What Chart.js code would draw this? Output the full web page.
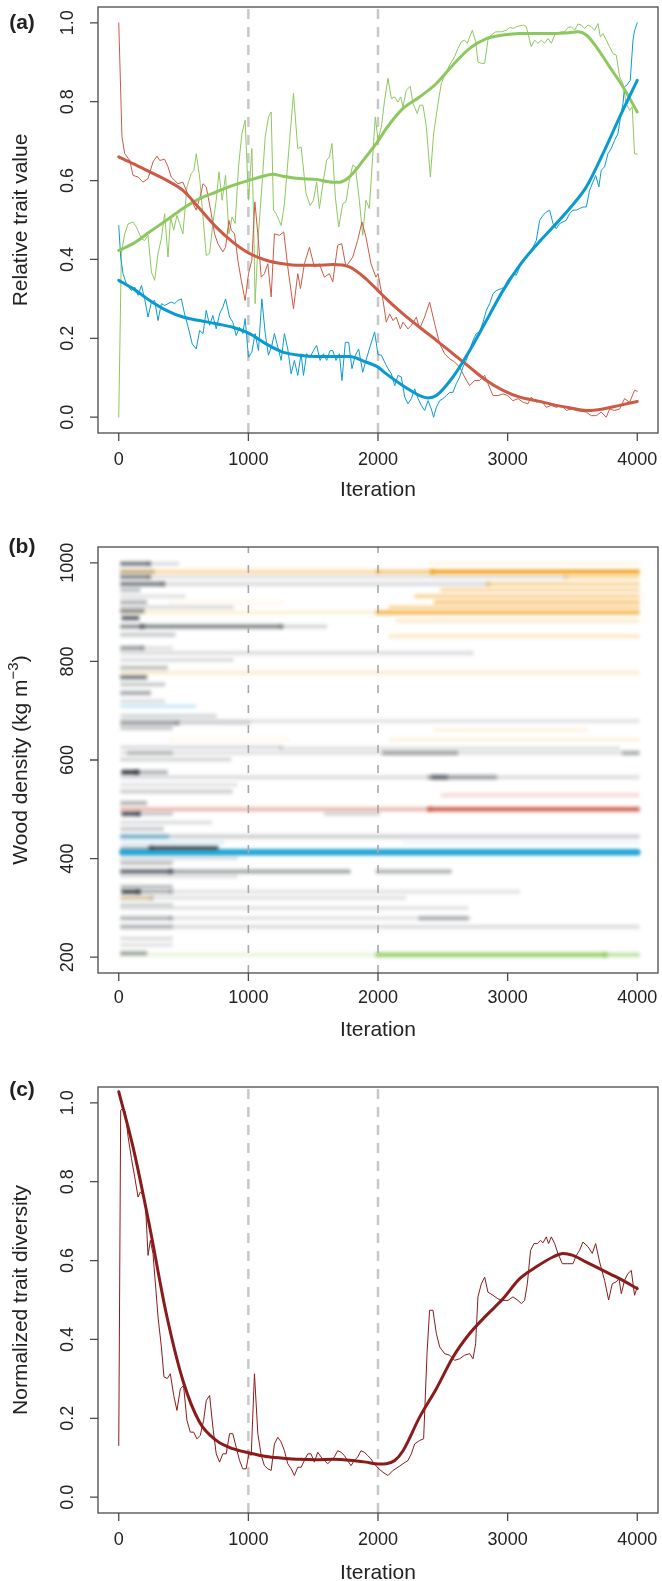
<!DOCTYPE html>
<html><head><meta charset="utf-8">
<script src="https://cdn.jsdelivr.net/npm/chart.js@4.4.1/dist/chart.umd.min.js"></script>
<style>
html,body{margin:0;padding:0;background:#fff;width:662px;height:1581px;overflow:hidden}
.p{position:absolute;left:0;width:662px}
canvas{display:block}
</style></head><body>
<div class="p" style="top:0px;height:520px"><canvas id="ca" width="662" height="520"></canvas></div>
<div class="p" style="top:520px;height:540px"><canvas id="cb" width="662" height="540"></canvas></div>
<div class="p" style="top:1060px;height:521px"><canvas id="cc" width="662" height="521"></canvas></div>
<script>
// ---------------- DATA ----------------
const xTicks = [0, 1000, 2000, 3000, 4000];
const xTickLabels = ['0', '1000', '2000', '3000', '4000'];
const guideIters = [1000, 2000];
const relTicks = [0, 0.2, 0.4, 0.6, 0.8, 1.0];
const relTickLabels = ['0.0', '0.2', '0.4', '0.6', '0.8', '1.0'];
const densTicks = [200, 400, 600, 800, 1000];
const densTickLabels = ['200', '400', '600', '800', '1000'];

// Panel (a) red trait, raw
const redIter = [0,25,46,85,110,150,187,226,264,295,316,354,380,405,457,495,526,560,598,637,650,675,714,739,765,803,824,850,868,893,919,945,975,1001,1027,1050,1073,1099,1124,1150,1176,1201,1240,1273,1304,1348,1381,1402,1432,1471,1509,1548,1586,1625,1651,1689,1720,1753,1805,1843,1876,1907,1946,1984,2000,2039,2064,2090,2116,2141,2172,2193,2231,2257,2296,2321,2360,2398,2437,2476,2514,2553,2591,2630,2668,2707,2745,2784,2823,2848,2887,2925,2964,3000,3041,3080,3118,3157,3182,3221,3260,3298,3337,3375,3414,3453,3491,3530,3568,3607,3645,3684,3722,3761,3787,3825,3864,3902,3941,3979,4000];
const redVal = [1.000,0.711,0.668,0.651,0.613,0.609,0.596,0.605,0.647,0.662,0.651,0.654,0.635,0.609,0.592,0.596,0.571,0.550,0.525,0.571,0.592,0.584,0.516,0.465,0.440,0.419,0.431,0.499,0.474,0.465,0.398,0.347,0.296,0.364,0.398,0.546,0.465,0.355,0.364,0.389,0.305,0.465,0.461,0.470,0.381,0.275,0.364,0.326,0.389,0.431,0.381,0.389,0.355,0.364,0.343,0.436,0.440,0.381,0.406,0.448,0.495,0.457,0.389,0.355,0.364,0.296,0.241,0.262,0.245,0.254,0.224,0.241,0.224,0.233,0.254,0.224,0.254,0.292,0.237,0.186,0.161,0.148,0.140,0.127,0.102,0.080,0.093,0.093,0.106,0.085,0.055,0.055,0.059,0.055,0.042,0.047,0.038,0.034,0.051,0.038,0.042,0.025,0.030,0.025,0.030,0.017,0.021,0.017,0.015,0.013,0.004,0.004,0.013,0.000,0.021,0.017,0.021,0.047,0.038,0.068,0.066];
// Panel (a) green trait, raw
const greenIter = [0,20,46,72,110,136,175,200,226,252,277,303,329,354,380,400,424,449,470,495,526,560,580,598,624,650,675,701,726,752,773,798,824,850,875,898,924,950,975,1001,1027,1040,1052,1078,1104,1130,1155,1176,1194,1214,1253,1278,1312,1348,1381,1407,1445,1476,1502,1527,1548,1579,1604,1625,1645,1671,1697,1728,1753,1779,1805,1825,1856,1882,1907,1933,1959,1979,2000,2026,2051,2077,2103,2129,2154,2175,2193,2218,2249,2270,2303,2321,2347,2373,2404,2429,2463,2488,2527,2553,2591,2617,2643,2668,2689,2707,2728,2753,2771,2797,2823,2848,2874,2908,2951,2990,3016,3046,3067,3093,3123,3144,3164,3182,3208,3234,3260,3285,3311,3337,3363,3388,3414,3440,3465,3491,3517,3543,3568,3594,3620,3645,3671,3697,3715,3735,3761,3787,3812,3838,3864,3889,3915,3941,3961,3979,4000];
const greenVal = [0.000,0.415,0.465,0.490,0.495,0.482,0.453,0.448,0.461,0.368,0.347,0.415,0.453,0.516,0.406,0.508,0.474,0.512,0.491,0.465,0.584,0.618,0.626,0.668,0.609,0.508,0.410,0.415,0.491,0.550,0.622,0.550,0.613,0.465,0.508,0.491,0.635,0.719,0.753,0.550,0.681,0.508,0.288,0.465,0.584,0.711,0.761,0.774,0.525,0.516,0.486,0.541,0.677,0.821,0.681,0.685,0.567,0.537,0.550,0.596,0.529,0.601,0.651,0.660,0.694,0.558,0.482,0.541,0.546,0.601,0.639,0.635,0.550,0.461,0.550,0.529,0.660,0.761,0.702,0.736,0.804,0.859,0.808,0.812,0.799,0.812,0.787,0.829,0.839,0.795,0.770,0.791,0.791,0.736,0.609,0.719,0.795,0.846,0.876,0.893,0.914,0.935,0.952,0.956,0.948,0.964,0.981,0.952,0.901,0.897,0.897,0.956,0.969,0.977,0.977,0.981,0.988,0.986,0.990,0.992,0.994,0.990,0.964,0.939,0.956,0.948,0.956,0.948,0.960,0.948,0.969,0.973,0.977,0.977,0.988,0.990,0.981,0.997,0.994,0.986,0.994,0.990,0.981,0.998,0.964,0.973,0.956,0.939,0.922,0.918,0.863,0.846,0.795,0.778,0.787,0.668,0.667];
// Panel (a) blue trait, raw
const blueIter = [0,15,33,59,98,123,149,175,200,226,252,277,303,329,354,380,405,431,457,483,508,542,567,598,624,650,675,701,726,752,778,803,824,855,880,906,932,957,975,1001,1027,1052,1078,1104,1130,1155,1181,1201,1227,1253,1278,1304,1330,1355,1381,1407,1425,1450,1476,1502,1527,1553,1579,1604,1630,1651,1676,1702,1722,1748,1774,1799,1825,1851,1882,1907,1938,1974,2000,2026,2051,2077,2103,2129,2154,2180,2206,2231,2257,2283,2309,2334,2360,2386,2411,2429,2450,2476,2501,2527,2553,2578,2604,2630,2655,2681,2707,2733,2758,2784,2810,2836,2861,2887,2913,2951,2977,3000,3041,3067,3093,3118,3144,3170,3195,3221,3247,3273,3298,3324,3350,3375,3401,3427,3452,3478,3504,3530,3555,3581,3607,3632,3658,3679,3704,3722,3748,3774,3799,3825,3851,3869,3890,3902,3920,3946,3967,3980,4000];
const blueVal = [0.486,0.406,0.364,0.338,0.321,0.330,0.309,0.334,0.300,0.254,0.292,0.296,0.245,0.288,0.283,0.288,0.292,0.288,0.296,0.300,0.262,0.220,0.186,0.173,0.220,0.212,0.271,0.233,0.258,0.224,0.262,0.279,0.300,0.254,0.241,0.207,0.228,0.212,0.250,0.152,0.165,0.212,0.169,0.300,0.212,0.157,0.182,0.212,0.178,0.144,0.212,0.173,0.110,0.144,0.106,0.161,0.106,0.161,0.152,0.169,0.182,0.144,0.161,0.144,0.169,0.169,0.144,0.161,0.093,0.190,0.190,0.123,0.157,0.173,0.114,0.144,0.178,0.216,0.159,0.157,0.140,0.123,0.110,0.080,0.106,0.102,0.051,0.034,0.047,0.072,0.047,0.030,0.017,0.042,0.021,0.000,0.025,0.042,0.047,0.055,0.063,0.063,0.085,0.102,0.127,0.144,0.169,0.195,0.212,0.216,0.241,0.271,0.288,0.313,0.321,0.326,0.330,0.347,0.364,0.360,0.381,0.398,0.406,0.419,0.431,0.448,0.499,0.512,0.520,0.525,0.491,0.478,0.491,0.495,0.499,0.516,0.525,0.525,0.529,0.533,0.533,0.575,0.596,0.613,0.584,0.626,0.635,0.668,0.681,0.702,0.719,0.757,0.795,0.838,0.842,0.854,0.956,0.981,1.000];
// Panel (a) smoothed fits
const redFitIter = [0,110,239,367,495,624,752,880,1009,1137,1266,1394,1522,1651,1779,1907,2000,2064,2193,2321,2450,2578,2707,2836,2964,3093,3221,3350,3478,3607,3735,3864,4000];
const redFitVal = [0.660,0.643,0.622,0.601,0.575,0.529,0.482,0.444,0.415,0.398,0.389,0.385,0.385,0.387,0.381,0.351,0.321,0.300,0.262,0.228,0.195,0.161,0.127,0.093,0.068,0.051,0.042,0.032,0.024,0.017,0.021,0.030,0.040];
const greenFitIter = [0,110,239,367,495,624,752,880,1009,1137,1189,1266,1394,1522,1651,1702,1779,1907,2000,2064,2193,2321,2450,2578,2707,2836,2964,3093,3221,3350,3478,3543,3607,3684,3787,3889,4000];
const greenFitVal = [0.423,0.440,0.470,0.499,0.529,0.554,0.571,0.588,0.601,0.613,0.616,0.611,0.605,0.603,0.596,0.596,0.609,0.660,0.700,0.732,0.783,0.812,0.846,0.893,0.935,0.960,0.969,0.973,0.973,0.973,0.975,0.977,0.969,0.939,0.888,0.838,0.774];
const blueFitIter = [0,110,239,367,495,624,752,880,1009,1137,1266,1394,1522,1651,1779,1907,2000,2064,2193,2321,2386,2450,2578,2707,2836,2964,3093,3221,3350,3478,3607,3735,3864,4000];
const blueFitVal = [0.347,0.326,0.296,0.271,0.254,0.245,0.237,0.228,0.212,0.186,0.165,0.157,0.154,0.154,0.154,0.140,0.127,0.110,0.080,0.055,0.049,0.055,0.102,0.169,0.245,0.321,0.385,0.436,0.482,0.529,0.584,0.668,0.761,0.854];

// Panel (b) wood-density bands: density, iteration span, species group, abundance
const bandDensity = [998,998,1000,982,982,982,982,971,971,971,957,957,957,945,945,932,932,920,920,920,910,910,902,899,899,888,882,871,871,871,854,851,827,827,817,803,787,777,768,753,736,719,709,689,679,675,675,665,661,641,641,626,624,614,614,614,614,601,575,575,565,565,565,550,536,529,513,500,500,491,491,491,473,460,445,445,432,432,421,421,413,401,391,374,374,374,364,343,333,333,333,320,320,320,306,300,279,279,279,262,262,238,225,208,205,205,205];
const bandFrom = [30,230,2400,30,30,2000,2420,30,230,3450,30,340,2850,30,2500,30,2300,30,400,2450,30,2100,30,30,2000,40,2150,30,180,1250,30,2100,30,180,30,30,30,30,30,30,30,30,30,30,30,30,450,30,2450,400,2100,30,1250,30,2050,3900,80,30,40,140,30,2400,2430,30,30,2500,30,30,2400,40,150,1600,30,30,30,30,30,2200,30,250,30,30,30,30,400,2000,30,30,40,150,400,30,30,250,30,30,30,400,2330,30,30,30,30,30,30,2000,3750];
const bandTo = [230,450,4000,2000,260,2420,4000,230,3450,4000,340,2850,4000,150,4000,500,4000,200,1250,4000,870,4000,180,2000,4000,140,4000,180,1250,1590,420,4000,180,400,2720,870,360,4000,200,340,230,340,580,740,4000,450,1000,400,3600,1300,4000,1250,3850,4000,2600,4000,400,850,140,360,4000,2900,2520,900,860,4000,200,2400,4000,150,400,2000,700,330,4000,370,800,4000,250,750,4000,900,400,400,1770,2550,900,400,150,400,3080,250,250,2200,400,2680,400,2700,2680,4000,400,400,400,200,2000,3750,4000];
const bandGroup = ['k','k','o','o','k','o','o','k','k','o','k','k','o','k','o','k','o','k','o','o','k','o','k','o','o','k','o','k','k','k','k','o','k','k','k','k','k','o','k','k','k','k','b','k','k','k','k','k','o','o','o','k','k','k','k','k','k','k','k','k','k','k','k','k','k','r','k','r','r','k','k','k','k','k','k','b','b','b','k','k','b','k','k','k','k','k','k','k','k','k','k','o','k','k','k','k','k','k','k','k','k','k','k','k','g','g','g'];
const bandLevel = [.55,.12,.07,.3,.25,.45,.9,.5,.1,.3,.55,.13,.35,.25,.3,.1,.35,.3,.06,.45,.12,.3,.45,.12,.65,.7,.15,.45,.5,.15,.2,.18,.4,.1,.12,.12,.25,.15,.55,.2,.35,.12,.15,.15,.1,.35,.12,.2,.1,.06,.1,.12,.1,.1,.3,.25,.2,.15,.95,.3,.12,.3,.4,.1,.18,.15,.3,.3,.8,.8,.2,.15,.12,.2,.18,.35,.1,.05,.25,.8,.95,.12,.25,.65,.35,.3,.1,.25,.85,.3,.1,.2,.15,.1,.15,.1,.3,.1,.25,.12,.2,.12,.1,.35,.15,.85,.45];

// Panel (c) normalized trait diversity
const divIter = [0,15,33,51,72,98,123,149,167,187,205,226,244,264,285,303,329,349,375,398,424,449,475,500,526,552,578,603,629,655,675,701,726,752,778,803,829,855,880,906,932,957,983,1004,1022,1047,1073,1099,1124,1150,1176,1201,1227,1253,1278,1304,1330,1355,1381,1407,1432,1458,1483,1509,1535,1561,1586,1612,1638,1663,1689,1715,1740,1766,1792,1817,1843,1869,1894,1920,1946,1971,2000,2039,2077,2116,2154,2193,2231,2257,2283,2321,2352,2378,2398,2424,2450,2476,2514,2553,2591,2630,2668,2707,2733,2753,2771,2797,2823,2848,2887,2925,2964,3003,3041,3080,3106,3131,3152,3177,3203,3229,3254,3273,3298,3316,3337,3363,3388,3422,3465,3504,3530,3555,3581,3620,3653,3679,3710,3748,3779,3807,3838,3859,3877,3902,3928,3954,3979,4000];
const divVal = [0.131,0.981,0.986,0.977,0.914,0.859,0.812,0.761,0.774,0.766,0.749,0.613,0.651,0.618,0.533,0.457,0.381,0.305,0.301,0.313,0.258,0.220,0.275,0.283,0.195,0.165,0.165,0.148,0.157,0.195,0.245,0.258,0.178,0.110,0.089,0.110,0.110,0.161,0.161,0.127,0.093,0.072,0.072,0.110,0.106,0.313,0.161,0.106,0.080,0.072,0.068,0.135,0.152,0.140,0.118,0.085,0.072,0.055,0.076,0.076,0.093,0.110,0.110,0.089,0.114,0.102,0.093,0.085,0.093,0.102,0.118,0.114,0.106,0.093,0.080,0.093,0.102,0.118,0.114,0.106,0.097,0.085,0.074,0.063,0.055,0.068,0.076,0.085,0.093,0.110,0.135,0.144,0.148,0.364,0.474,0.474,0.415,0.381,0.364,0.360,0.347,0.351,0.360,0.364,0.351,0.389,0.508,0.541,0.558,0.520,0.512,0.503,0.499,0.499,0.508,0.499,0.491,0.499,0.541,0.626,0.643,0.643,0.651,0.645,0.660,0.643,0.660,0.643,0.618,0.592,0.592,0.592,0.613,0.626,0.647,0.635,0.618,0.643,0.596,0.550,0.500,0.541,0.546,0.554,0.516,0.550,0.567,0.575,0.512,0.533];
const divFitIter = [0,110,239,367,495,624,752,880,1009,1137,1266,1394,1522,1651,1779,1907,2000,2064,2129,2193,2321,2450,2578,2707,2836,2964,3093,3221,3350,3427,3504,3607,3735,3864,4000];
const divFitVal = [1.028,0.888,0.685,0.465,0.296,0.190,0.144,0.123,0.112,0.103,0.099,0.096,0.095,0.096,0.094,0.089,0.084,0.085,0.093,0.118,0.203,0.275,0.355,0.415,0.461,0.503,0.554,0.584,0.609,0.618,0.613,0.596,0.575,0.554,0.529];

// ---------------- STYLE ----------------
const FONT = '"Liberation Sans", Arial, Helvetica, sans-serif';
const TXT = '#222222';
const RED = '#cc5a44', GREEN = '#8dc85e', BLUE = '#0a9ad2', DIVC = '#8b1a1a';
const groupRGB = {k:'45,54,60', o:'242,160,24', r:'200,72,52', b:'0,152,208', g:'140,200,90'};

function pts(xs, ys){ return xs.map((v,i)=>({x:v, y:ys[i]})); }
function lineDs(xs, ys, color, width, order, smooth){
  return {type:'line', data: pts(xs, ys), borderColor: color, borderWidth: width, pointRadius: 0,
    fill:false, order: order, tension: 0, cubicInterpolationMode: smooth ? 'monotone' : 'default',
    borderJoinStyle:'round', borderCapStyle:'round', spanGaps:true};
}

function rPlot(cfg){
  return {
    id:'rplot',
    beforeDatasetsDraw(chart){
      if (cfg.blur) { chart.ctx.save(); chart.ctx.filter = 'blur(1.2px)'; }
      if (!cfg.guidesOnTop) drawGuides(chart, cfg);
    },
    afterDatasetsDraw(chart){
      if (cfg.blur) chart.ctx.restore();
      if (cfg.guidesOnTop) drawGuides(chart, cfg);
    },
    afterDraw(chart){
      const ctx = chart.ctx, a = chart.chartArea, xs = chart.scales.x, ys = chart.scales.y;
      ctx.save();
      ctx.strokeStyle = '#4a4a4a'; ctx.lineWidth = 1.3;
      ctx.strokeRect(a.left, a.top, a.right - a.left, a.bottom - a.top);
      ctx.beginPath();
      xTicks.forEach(v => { const p = xs.getPixelForValue(v); ctx.moveTo(p, a.bottom); ctx.lineTo(p, a.bottom + 8); });
      cfg.yTicks.forEach(v => { const p = ys.getPixelForValue(v); ctx.moveTo(a.left, p); ctx.lineTo(a.left - 8, p); });
      ctx.stroke();
      ctx.fillStyle = TXT;
      ctx.font = '18px ' + FONT; ctx.textAlign = 'center'; ctx.textBaseline = 'middle';
      xTicks.forEach((v,i) => ctx.fillText(xTickLabels[i], xs.getPixelForValue(v), a.bottom + cfg.tickLabOff));
      cfg.yTicks.forEach((v,i) => {
        ctx.save(); ctx.translate(68, ys.getPixelForValue(v)); ctx.rotate(-Math.PI/2);
        ctx.fillText(cfg.yLabels[i], 0, 0); ctx.restore();
      });
      ctx.font = '21px ' + FONT;
      ctx.fillText('Iteration', (a.left + a.right)/2, a.bottom + cfg.titleOff);
      ctx.save(); ctx.translate(21, (a.top + a.bottom)/2); ctx.rotate(-Math.PI/2);
      if (cfg.sup) {
        const main = cfg.yTitle, sup = cfg.sup, tail = cfg.tail;
        ctx.font = '21px ' + FONT; const w1 = ctx.measureText(main).width, w3 = ctx.measureText(tail).width;
        ctx.font = '15px ' + FONT; const w2 = ctx.measureText(sup).width;
        let x0 = -(w1 + w2 + w3)/2;
        ctx.textAlign = 'left';
        ctx.font = '21px ' + FONT; ctx.fillText(main, x0, 0);
        ctx.font = '15px ' + FONT; ctx.fillText(sup, x0 + w1, -7);
        ctx.font = '21px ' + FONT; ctx.fillText(tail, x0 + w1 + w2, 0);
      } else {
        ctx.fillText(cfg.yTitle, 0, 0);
      }
      ctx.restore();
      ctx.font = 'bold 21px ' + FONT; ctx.textAlign = 'center';
      ctx.fillText(cfg.letter, 22, cfg.letterY);
      ctx.restore();
    }
  };
}
function drawGuides(chart, cfg){
  const ctx = chart.ctx, a = chart.chartArea, xs = chart.scales.x;
  ctx.save();
  ctx.filter = 'none';
  ctx.strokeStyle = cfg.guideColor; ctx.lineWidth = cfg.guideWidth; ctx.setLineDash(cfg.guideDash);
  guideIters.forEach(v => { const p = xs.getPixelForValue(v); ctx.beginPath(); ctx.moveTo(p, a.bottom); ctx.lineTo(p, a.top); ctx.stroke(); });
  ctx.restore();
}

function makeChart(id, datasets, yMin, yMax, cfg, H){
  return new Chart(document.getElementById(id), {
    type:'line',
    data:{datasets: datasets},
    options:{
      responsive:false, animation:false, devicePixelRatio:1, events:[],
      layout:{padding:{left:98, right:4, top:cfg.top, bottom:H - cfg.top - 426}},
      scales:{
        x:{type:'linear', min:-160, max:4160, display:false},
        y:{type:'linear', min:yMin, max:yMax, display:false}
      },
      plugins:{legend:{display:false}, tooltip:{enabled:false}}
    },
    plugins:[rPlot(cfg)]
  });
}

// Panel (a)
makeChart('ca', [
  lineDs(blueFitIter, blueFitVal, BLUE, 3, 1, true),
  lineDs(redFitIter, redFitVal, RED, 3, 1, true),
  lineDs(greenFitIter, greenFitVal, GREEN, 3, 1, true),
  lineDs(blueIter, blueVal, BLUE, 1, 2, false),
  lineDs(redIter, redVal, RED, 1, 2, false),
  lineDs(greenIter, greenVal, GREEN, 1, 2, false)
], -0.04, 1.04, {top:7, yTicks: relTicks, yLabels: relTickLabels, yTitle:'Relative trait value', letter:'(a)', letterY:23,
  tickLabOff:27, titleOff:57, guideColor:'#c8c8c8', guideWidth:2.5, guideDash:[10,8], guidesOnTop:false}, 520);

// Panel (b): each band drawn as a soft halo plus a core stroke
const bandSets = [];
bandDensity.forEach((d,i) => {
  const rgb = groupRGB[bandGroup[i]], lv = bandLevel[i];
  const strong = bandGroup[i] === 'b' && lv > 0.5;
  const seg = [{x:bandFrom[i], y:d},{x:bandTo[i], y:d}];
  bandSets.push({type:'line', data:seg, borderColor:'rgba(' + rgb + ',' + (lv*0.35).toFixed(3) + ')',
    borderWidth: strong ? 9 : 8, borderCapStyle:'round', pointRadius:0, fill:false, tension:0, order:2});
  bandSets.push({type:'line', data:seg, borderColor:'rgba(' + rgb + ',' + (lv*0.8).toFixed(3) + ')',
    borderWidth: strong ? 5 : 3.5, borderCapStyle:'round', pointRadius:0, fill:false, tension:0, order:1});
});
makeChart('cb', bandSets, 168, 1032, {top:27, yTicks: densTicks, yLabels: densTickLabels, yTitle:'Wood density (kg m', sup:'\u22123', tail:')',
  letter:'(b)', letterY:27, tickLabOff:25, titleOff:57, guideColor:'#a8a8a8', guideWidth:1.6, guideDash:[8,12], guidesOnTop:true, blur:true}, 540);

// Panel (c)
makeChart('cc', [
  lineDs(divFitIter, divFitVal, DIVC, 3, 1, true),
  lineDs(divIter, divVal, DIVC, 1, 2, false)
], -0.04, 1.04, {top:27, yTicks: relTicks, yLabels: relTickLabels, yTitle:'Normalized trait diversity', letter:'(c)', letterY:30,
  tickLabOff:27, titleOff:60, guideColor:'#c8c8c8', guideWidth:2.5, guideDash:[10,8], guidesOnTop:false}, 521);
</script>
</body></html>
